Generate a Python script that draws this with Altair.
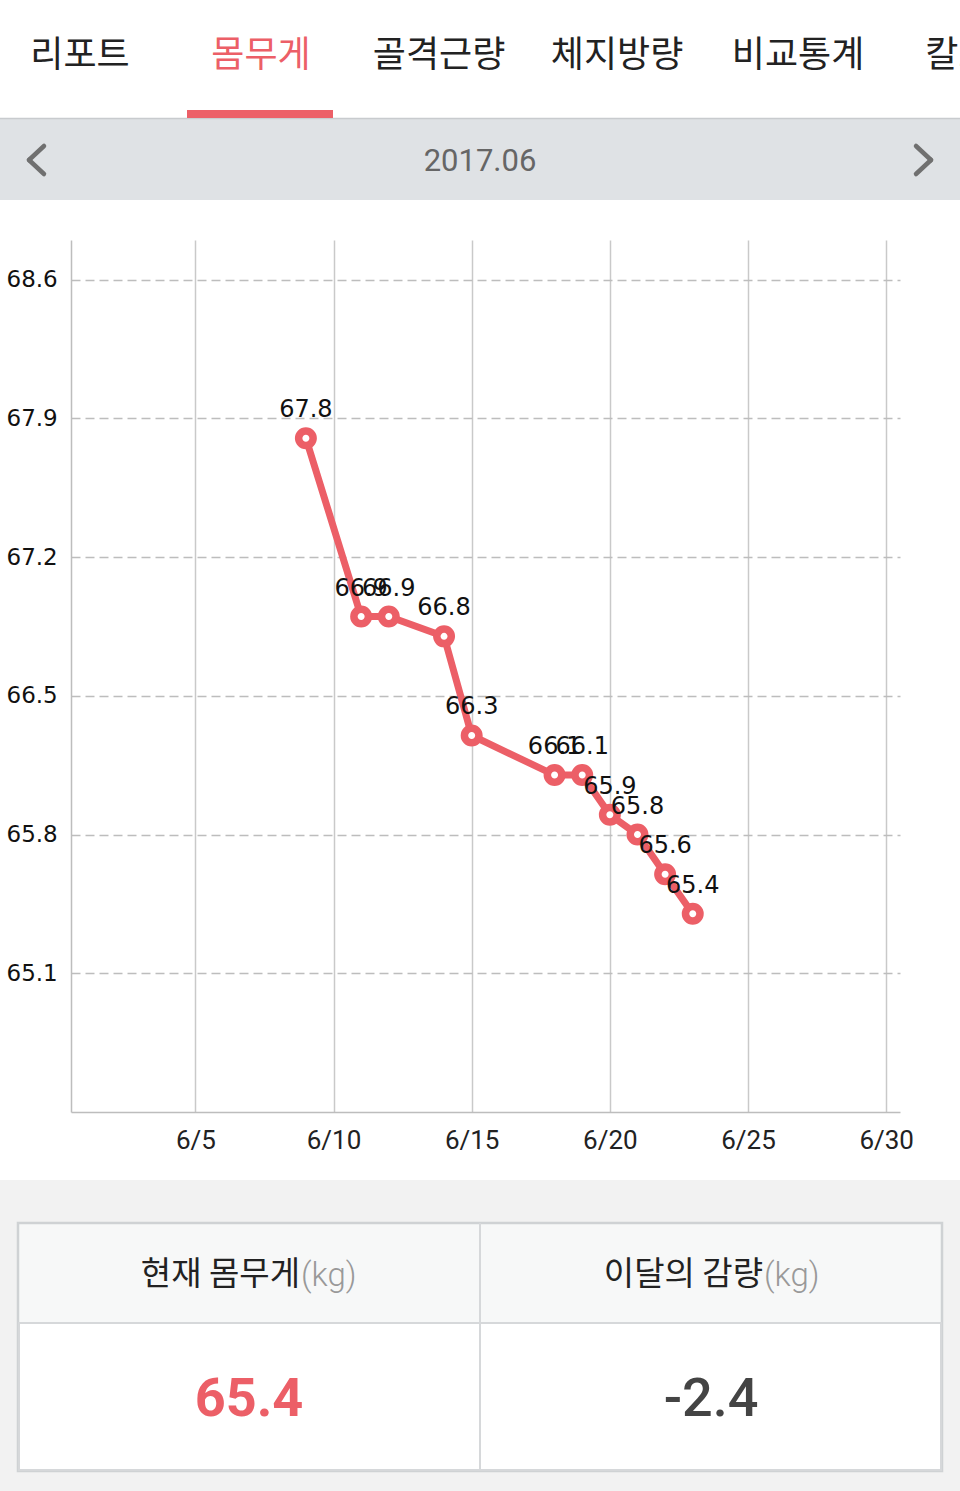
import altair as alt
import pandas as pd

# ---------------- data ----------------
month = 6
days = [9, 11, 12, 14, 15, 18, 19, 20, 21, 22, 23]
weights = [67.8, 66.9, 66.9, 66.8, 66.3, 66.1, 66.1, 65.9, 65.8, 65.6, 65.4]
x_ticks = [5, 10, 15, 20, 25, 30]
y_ticks = [65.1, 65.8, 66.5, 67.2, 67.9, 68.6]
tabs = ["리포트", "몸무게", "골격근량", "체지방량", "비교통계", "칼로리"]
period = "2017.06"
table_headers = ["현재 몸무게", "이달의 감량"]
unit = "(kg)"

current = weights[-1]
change = round(weights[-1] - weights[0], 1)

RED = "#ec5f67"
OX, OY = 71, 240
W, H = 829, 872

df = pd.DataFrame({"day": days, "weight": weights})
one = pd.DataFrame({"k": [0]})


def X(v):
    return alt.value(v - OX)


def Y(v):
    return alt.value(v - OY)


xs = alt.Scale(domain=[0.5, 30.5], nice=False, zero=False)
ys = alt.Scale(domain=[64.4, 68.8], nice=False, zero=False)

x_enc = alt.X(
    "day:Q",
    scale=xs,
    axis=alt.Axis(
        values=x_ticks,
        labelExpr=f"'{month}/' + datum.value",
        title=None,
        grid=True,
        gridColor="#c9c9c9",
        gridWidth=1.5,
        domainColor="#bdbdbd",
        domainWidth=1.5,
        ticks=False,
        tickSize=0,
        labelPadding=28,
        labelBaseline="middle",
        labelFont="Roboto",
        labelFontSize=26,
        labelColor="#222222",
    ),
)
y_enc = alt.Y(
    "weight:Q",
    scale=ys,
    axis=alt.Axis(
        values=y_ticks,
        format=".1f",
        title=None,
        grid=True,
        gridColor="#bdbdbd",
        gridWidth=1.3,
        gridDash=[9, 5],
        domainColor="#bdbdbd",
        domainWidth=1.5,
        ticks=False,
        tickSize=0,
        labelAlign="left",
        labelBaseline="middle",
        labelPadding=65,
        labelFont="DejaVu Sans",
        labelFontSize=23,
        labelColor="#111111",
    ),
)

base = alt.Chart(df).encode(x=x_enc, y=y_enc)
line = base.mark_line(color=RED, strokeWidth=7)
pts = base.mark_point(
    shape="circle", filled=True, fill="white", stroke=RED, strokeWidth=7.5, size=210, opacity=1
)
labels = base.mark_text(
    dy=-28, font="DejaVu Sans", fontSize=24, color="#111111"
).encode(text=alt.Text("weight:Q", format=".1f"))

layers = []

# --- header backgrounds ---
layers.append(
    alt.Chart(one).mark_rect(color="#dfe2e5").encode(
        x=X(0), x2=X(960), y=Y(119), y2=Y(200)
    )
)
layers.append(
    alt.Chart(one).mark_rule(color="#c8cbce", strokeWidth=1.5).encode(
        x=X(0), x2=X(960), y=Y(118.5)
    )
)
# tab underline
layers.append(
    alt.Chart(one).mark_rect(color=RED).encode(
        x=X(187), x2=X(333), y=Y(110), y2=Y(118)
    )
)
tab_x = [80, 261, 439, 617, 798, 975]
for i, t in enumerate(tabs):
    layers.append(
        alt.Chart(one).mark_text(
            font="Noto Sans CJK KR",
            fontSize=36,
            align="center",
            baseline="middle",
            color=RED if i == 1 else "#222222",
        ).encode(x=X(tab_x[i]), y=Y(56), text=alt.value(t))
    )
# period + chevrons
layers.append(
    alt.Chart(one).mark_text(
        font="Roboto", fontSize=31, color="#666666", align="center", baseline="middle"
    ).encode(x=X(480), y=Y(162), text=alt.value(period))
)
for (xa, xb) in [(44, 29), (916, 931)]:
    layers.append(
        alt.Chart(one).mark_rule(color="#707070", strokeWidth=4.5, strokeCap="round").encode(
            x=X(xa), y=Y(146), x2=X(xb), y2=Y(160)
        )
    )
    layers.append(
        alt.Chart(one).mark_rule(color="#707070", strokeWidth=4.5, strokeCap="round").encode(
            x=X(xb), y=Y(160), x2=X(xa), y2=Y(174)
        )
    )

# --- bottom table ---
layers.append(
    alt.Chart(one).mark_rect(color="#f2f2f2").encode(
        x=X(0), x2=X(960), y=Y(1180), y2=Y(1491)
    )
)
layers.append(
    alt.Chart(one).mark_rect(fill="#f7f8f8", stroke="#cfd2d4", strokeWidth=2.5).encode(
        x=X(18), x2=X(942), y=Y(1223), y2=Y(1471)
    )
)
layers.append(
    alt.Chart(one).mark_rect(fill="white", stroke="#d6d8da", strokeWidth=2).encode(
        x=X(19), x2=X(941), y=Y(1323), y2=Y(1470)
    )
)
layers.append(
    alt.Chart(one).mark_rule(color="#d6d8da", strokeWidth=2).encode(
        x=X(480), y=Y(1223), y2=Y(1470)
    )
)
hdr_right = [300, 763]
for i, h in enumerate(table_headers):
    layers.append(
        alt.Chart(one).mark_text(
            font="Noto Sans CJK KR", fontSize=33, color="#222222", align="right", baseline="middle"
        ).encode(x=X(hdr_right[i]), y=Y(1275), text=alt.value(h))
    )
    layers.append(
        alt.Chart(one).mark_text(
            font="Roboto", fontSize=33, fontWeight=300, color="#999999", align="left", baseline="middle"
        ).encode(x=X(hdr_right[i] + 1), y=Y(1276), text=alt.value(unit))
    )
layers.append(
    alt.Chart(one).mark_text(
        font="Roboto", fontSize=54, fontWeight="bold", color=RED, align="center", baseline="middle"
    ).encode(x=X(249), y=Y(1400), text=alt.value(f"{current:.1f}"))
)
layers.append(
    alt.Chart(one).mark_text(
        font="Roboto", fontSize=54, fontWeight=500, color="#444444", align="center", baseline="middle"
    ).encode(x=X(711), y=Y(1400), text=alt.value(f"{change:.1f}"))
)

chart = alt.layer(line, pts, labels, *layers).properties(
    width=W,
    height=H,
    autosize=alt.AutoSizeParams(type="none"),
    padding={"left": OX, "top": OY, "right": 960 - OX - W, "bottom": 1491 - OY - H},
    background="white",
).configure_view(stroke=None)

chart.save("out.html", embed_options={"renderer": "svg", "actions": False})
